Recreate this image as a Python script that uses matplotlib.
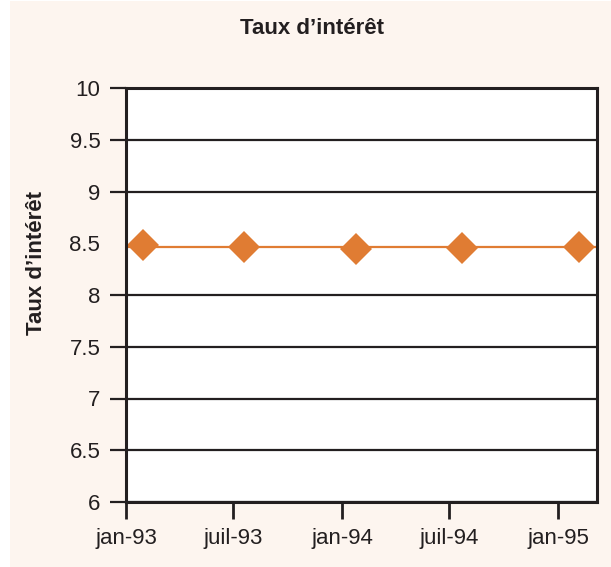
import datetime as dt
import matplotlib
matplotlib.use("Agg")
import matplotlib.pyplot as plt
import matplotlib.dates as mdates
from matplotlib.patches import Rectangle

plt.rcParams['font.family'] = ['Liberation Sans', 'DejaVu Sans']

# donnees
dates = [dt.date(1993, 1, 30), dt.date(1993, 7, 19), dt.date(1994, 1, 24),
         dt.date(1994, 7, 23), dt.date(1995, 2, 6)]
taux = [8.485, 8.465, 8.445, 8.457, 8.465]
taux_ligne = 8.466
ticks_x = [dt.date(1993, 1, 1), dt.date(1993, 7, 1), dt.date(1994, 1, 1),
           dt.date(1994, 7, 1), dt.date(1995, 1, 1)]
labels_x = ['jan-93', 'juil-93', 'jan-94', 'juil-94', 'jan-95']
ticks_y = [6, 6.5, 7, 7.5, 8, 8.5, 9, 9.5, 10]
labels_y = ['6', '6.5', '7', '7.5', '8', '8.5', '9', '9.5', '10']

txt = '#231f20'
orange = '#e07c33'
fond = '#fdf5ef'

fig = plt.figure(figsize=(6.11, 5.67), dpi=100)
fig.patch.set_facecolor('white')
fig.patches.append(Rectangle((10/611, 0), 1, 1 - 1/567, transform=fig.transFigure,
                             facecolor=fond, edgecolor='none', zorder=-10))

ax = fig.add_axes([126/611, 65/567, 471/611, 414/567])
ax.set_facecolor('white')

ax.axhline(taux_ligne, color=orange, lw=1.6, zorder=3)
ax.plot(dates, taux, ls='none', marker='D', ms=16, color=orange,
        markeredgewidth=0, zorder=4, clip_on=False)

ax.set_xlim(dt.date(1993, 1, 1), dt.date(1995, 3, 8))
ax.set_ylim(6, 10)
ax.set_xticks(mdates.date2num(ticks_x))
ax.set_xticklabels(labels_x)
ax.set_yticks(ticks_y)
ax.set_yticklabels(labels_y)

ax.grid(axis='y', color=txt, lw=1.6, zorder=1)
ax.set_axisbelow(True)
for s in ax.spines.values():
    s.set_linewidth(2.2)
    s.set_color(txt)
    s.set_zorder(5)

ax.tick_params(axis='x', length=12, width=2, color=txt, labelcolor=txt,
               labelsize=16, pad=7)
ax.tick_params(axis='y', length=11.5, width=1.6, color=txt, labelcolor=txt,
               labelsize=16, pad=7)
# pas de repere ni de ligne a 8.5 dans l'original
t85 = ax.yaxis.get_major_ticks()[5]
t85.tick1line.set_visible(False)
t85.gridline.set_visible(False)

ax.set_ylabel("Taux d\u2019intérêt", fontsize=16, fontweight='bold', color=txt)
ax.yaxis.set_label_coords(-0.168, 0.577)
fig.text(0.5 + 6/611, 1 - 33.5/567, "Taux d\u2019intérêt", ha='center',
         va='baseline', fontsize=16, fontweight='bold', color=txt)

fig.savefig('out.png', dpi=100, facecolor=fig.get_facecolor())
